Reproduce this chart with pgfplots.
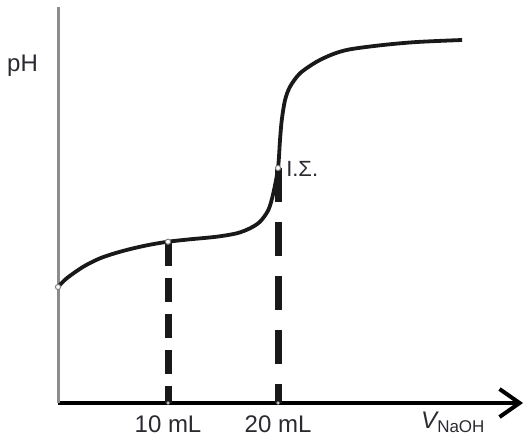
\documentclass[border=0pt]{standalone}
\usepackage{pgfplots}
\pgfplotsset{compat=1.18}
\usetikzlibrary{arrows.meta}
\usepackage{fontspec}
\setmainfont{Liberation Sans}
\definecolor{txt}{HTML}{2A2A30}
\definecolor{yax}{HTML}{8C8C8C}
\begin{document}
\begin{tikzpicture}
\begin{axis}[
    scale only axis,
    width=465pt, height=396pt,
    xmin=0, xmax=42.27,
    ymin=0, ymax=396,
    clip=false,
    axis lines=left,
    x axis line style={black, line width=4pt, -{Straight Barb[length=20pt, width=28pt, line width=4pt]}},
    y axis line style={yax, line width=3pt, -},
    ytick=\empty,
    xtick={10,20},
    xticklabels={10 mL, 20 mL},
    major tick length=0pt,
    xticklabel style={anchor=base, yshift=-29pt, font=\fontsize{24}{28}\selectfont, text=txt},
]
% equivalence and half-equivalence verticals
\addplot[black!90, line width=7pt, dash pattern=on 24pt off 12pt] coordinates {(10,161) (10,0)};
\addplot[black!90, line width=7pt, dash pattern=on 34pt off 20pt] coordinates {(20,235) (20,0)};
% titration curve
\addplot[black!90, line width=3.8pt, smooth, tension=0.5] coordinates {
    (0,116) (0.79,124.7) (2.3,136.3) (3.82,144.7) (5.34,150.3) (6.85,154.7)
    (8.36,158.3) (10,161.3) (12,163.7) (14.43,166.3) (16.25,169.7)
    (17.45,174.7) (18.36,181.3) (19.12,193) (19.57,209.7) (20,235)
    (20.18,263) (20.34,283) (20.64,303) (21.09,316.3) (22,329.7)
    (23.52,341.3) (25.03,349) (26.55,353.7) (29.55,358) (32.64,361) (36.73,363)
};
\addplot[only marks, mark=*, mark size=2.6pt, mark options={fill=white, draw=gray, line width=1pt}]
    coordinates {(0,116) (10,161.3) (20,235)};
\addplot[only marks, mark=*, mark size=1.5pt, mark options={fill=white, draw=gray, line width=0.6pt}]
    coordinates {(10,0) (20,0)};
\node[anchor=base west, inner sep=0pt, text=txt, font=\fontsize{24}{28}\selectfont] at (axis cs:-4.636,331) {pH};
\node[anchor=base west, inner sep=0pt, text=txt, font=\fontsize{22}{26}\selectfont] at (axis cs:20.73,226) {Ι.Σ.};
\node[anchor=base west, inner sep=0pt, text=txt, font=\fontsize{24}{28}\selectfont] at (axis cs:33,-25)
    {\itshape V\upshape\raisebox{-0.2em}{\fontsize{17}{20}\selectfont NaOH}};
\coordinate (bbSW) at (axis cs:-5.273,-40);
\coordinate (bbNE) at (axis cs:42.45,403);
\end{axis}
\pgfresetboundingbox
\path (bbSW) rectangle (bbNE);
\end{tikzpicture}
\end{document}
